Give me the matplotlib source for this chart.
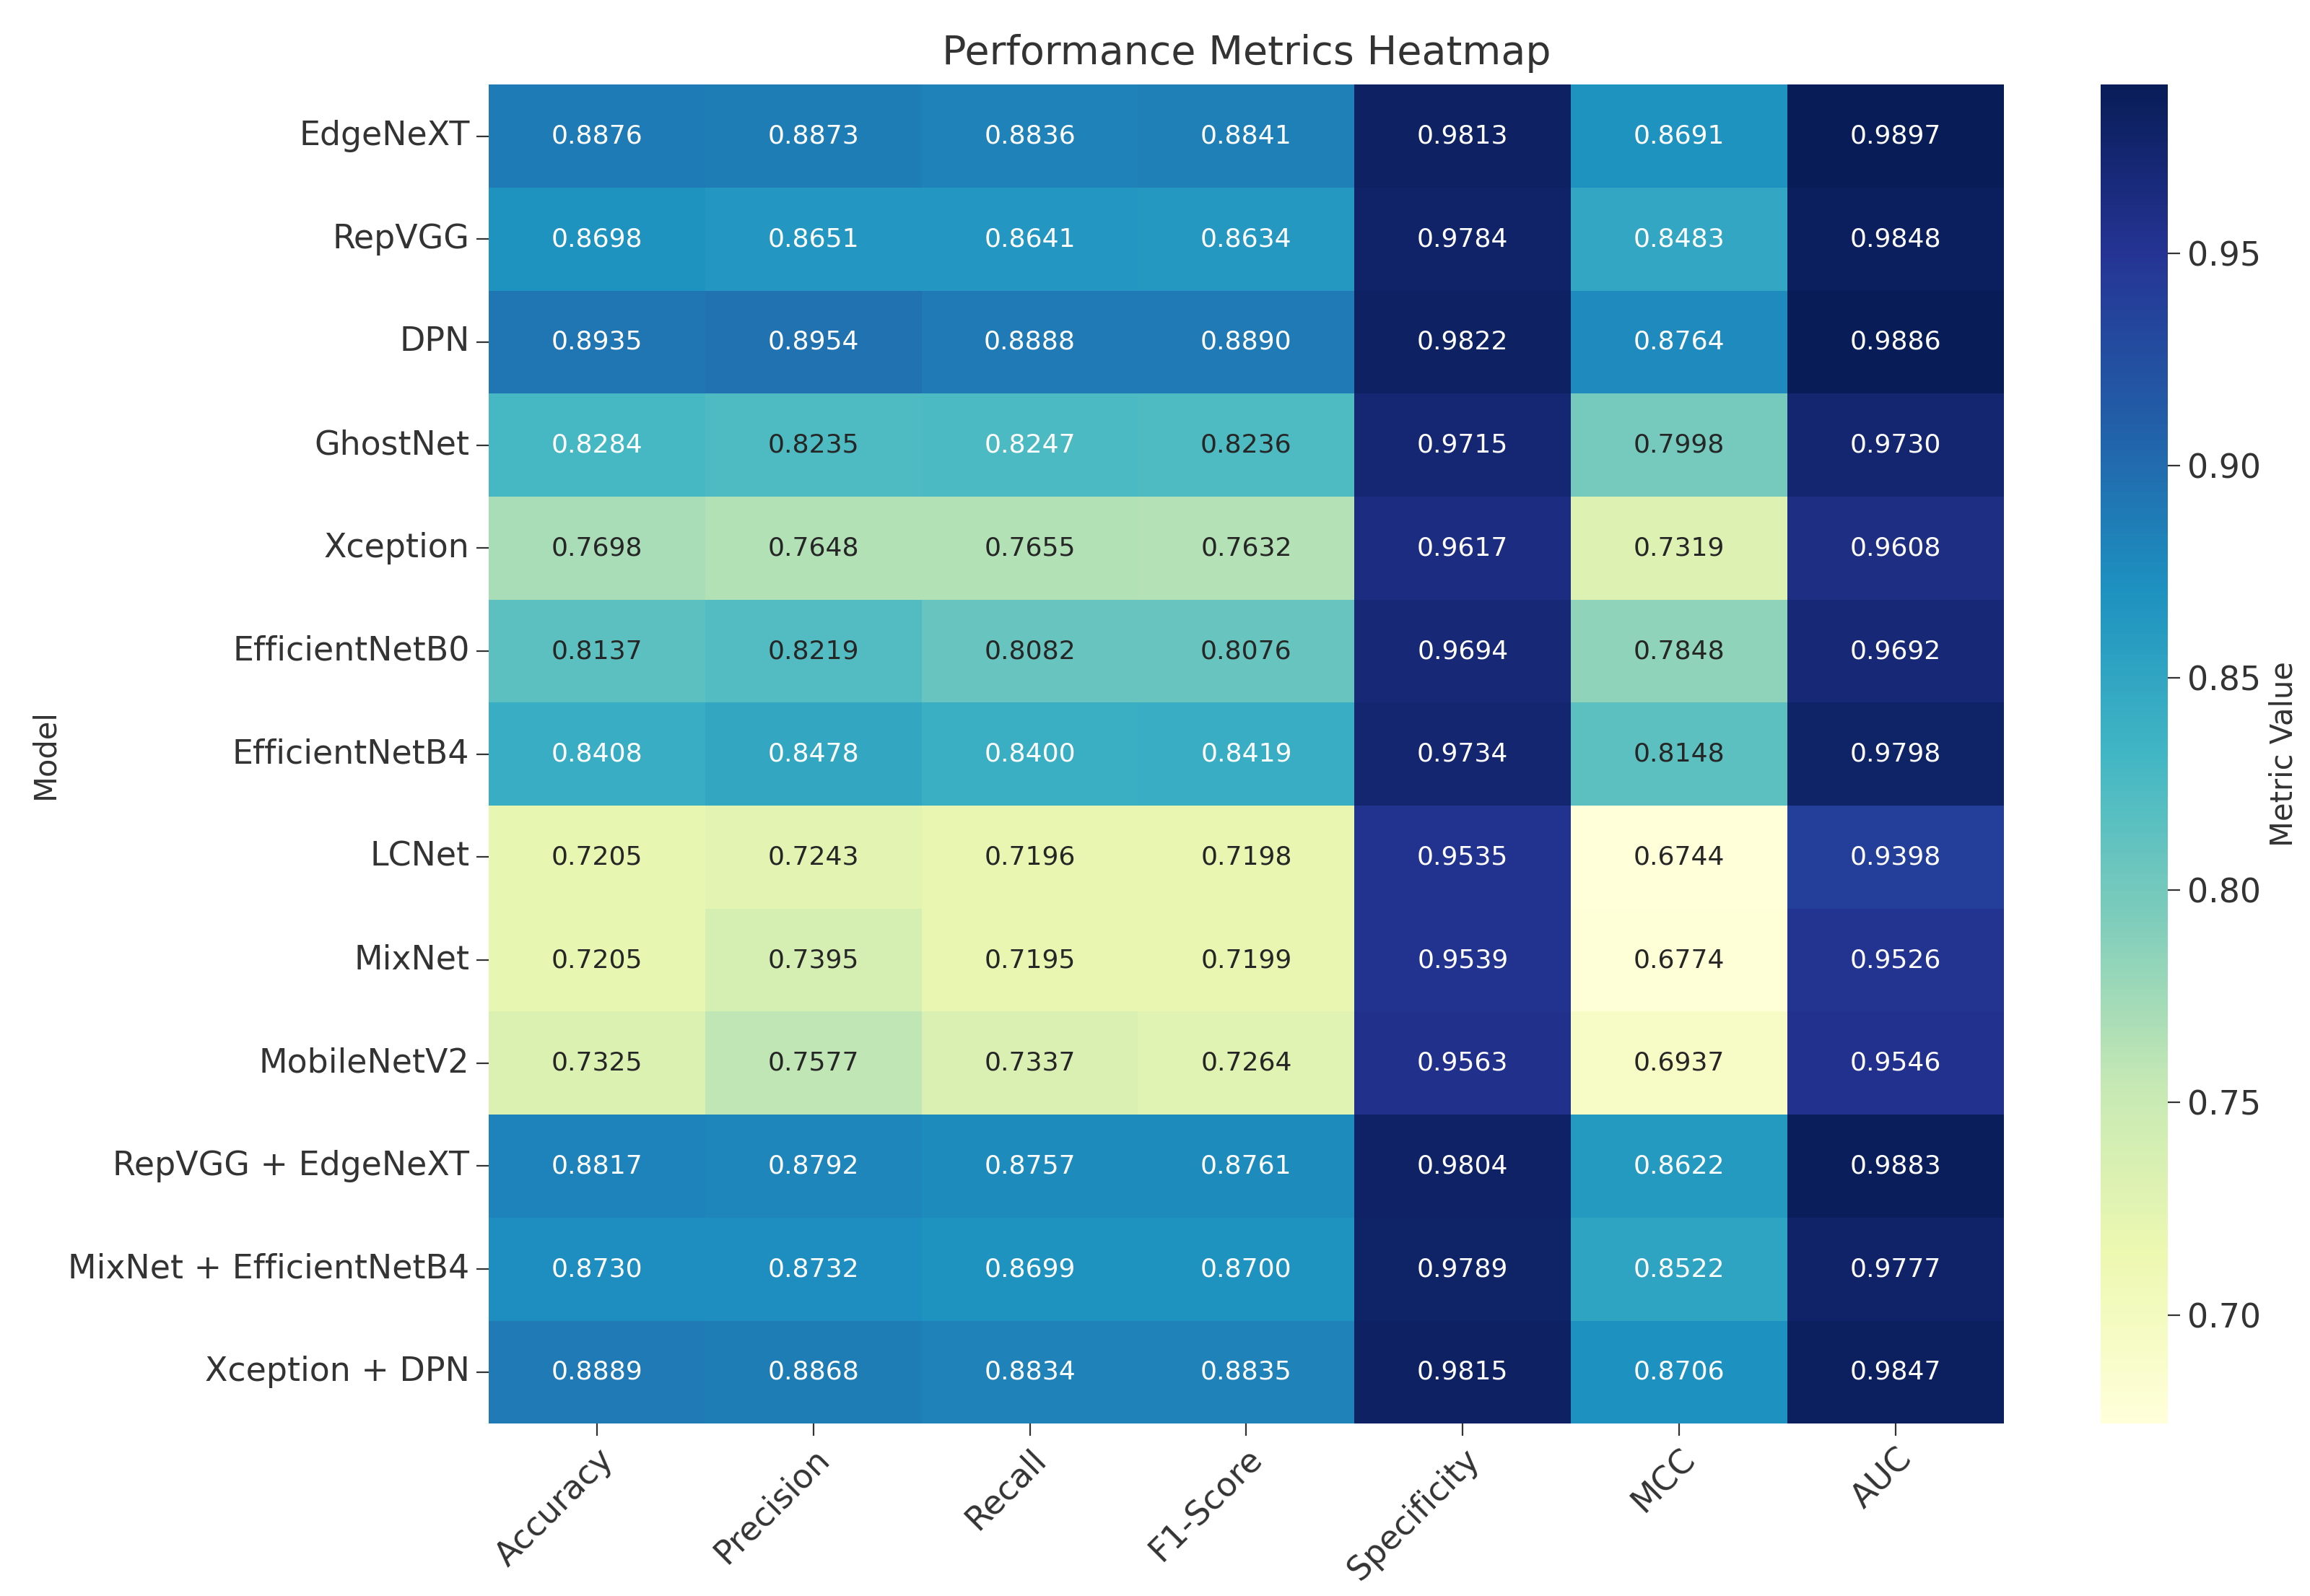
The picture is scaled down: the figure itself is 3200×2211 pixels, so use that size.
import numpy as np
import pandas as pd
import matplotlib
matplotlib.use("Agg")
import matplotlib.pyplot as plt
import seaborn as sns

models = ["EdgeNeXT", "RepVGG", "DPN", "GhostNet", "Xception", "EfficientNetB0",
          "EfficientNetB4", "LCNet", "MixNet", "MobileNetV2", "RepVGG + EdgeNeXT",
          "MixNet + EfficientNetB4", "Xception + DPN"]
metrics = ["Accuracy", "Precision", "Recall", "F1-Score", "Specificity", "MCC", "AUC"]

accuracy = [0.8876, 0.8698, 0.8935, 0.8284, 0.7698, 0.8137, 0.8408, 0.7205, 0.7205, 0.7325, 0.8817, 0.8730, 0.8889]
precision = [0.8873, 0.8651, 0.8954, 0.8235, 0.7648, 0.8219, 0.8478, 0.7243, 0.7395, 0.7577, 0.8792, 0.8732, 0.8868]
recall = [0.8836, 0.8641, 0.8888, 0.8247, 0.7655, 0.8082, 0.8400, 0.7196, 0.7195, 0.7337, 0.8757, 0.8699, 0.8834]
f1_score = [0.8841, 0.8634, 0.8890, 0.8236, 0.7632, 0.8076, 0.8419, 0.7198, 0.7199, 0.7264, 0.8761, 0.8700, 0.8835]
specificity = [0.9813, 0.9784, 0.9822, 0.9715, 0.9617, 0.9694, 0.9734, 0.9535, 0.9539, 0.9563, 0.9804, 0.9789, 0.9815]
mcc = [0.8691, 0.8483, 0.8764, 0.7998, 0.7319, 0.7848, 0.8148, 0.6744, 0.6774, 0.6937, 0.8622, 0.8522, 0.8706]
auc = [0.9897, 0.9848, 0.9886, 0.9730, 0.9608, 0.9692, 0.9798, 0.9398, 0.9526, 0.9546, 0.9883, 0.9777, 0.9847]

df = pd.DataFrame({
    "Accuracy": accuracy,
    "Precision": precision,
    "Recall": recall,
    "F1-Score": f1_score,
    "Specificity": specificity,
    "MCC": mcc,
    "AUC": auc,
}, index=models)[metrics]
df.index.name = "Model"

fig = plt.figure(figsize=(16, 11.055), dpi=200)
ax = fig.add_axes([0.2115, 0.108, 0.656, 0.839])
cax = fig.add_axes([0.9095, 0.108, 0.029, 0.839])

sns.heatmap(df, annot=True, fmt=".4f", cmap="YlGnBu", ax=ax, cbar_ax=cax,
            annot_kws={"size": 13}, cbar_kws={"label": "Metric Value"})

ax.set_title("Performance Metrics Heatmap", fontsize=20, color="#333333", pad=10)
ax.set_ylabel("Model", fontsize=15, color="#333333")
ax.set_xlabel("")
ax.tick_params(axis="both", labelsize=16.5, colors="#333333", length=6)
plt.setp(ax.get_xticklabels(), rotation=45, ha="right", rotation_mode="anchor")
plt.setp(ax.get_yticklabels(), rotation=0)

cax.tick_params(labelsize=16.5, colors="#333333", length=6)
cax.yaxis.label.set_size(15)
cax.yaxis.label.set_color("#333333")

fig.savefig("out.png", dpi=200)
